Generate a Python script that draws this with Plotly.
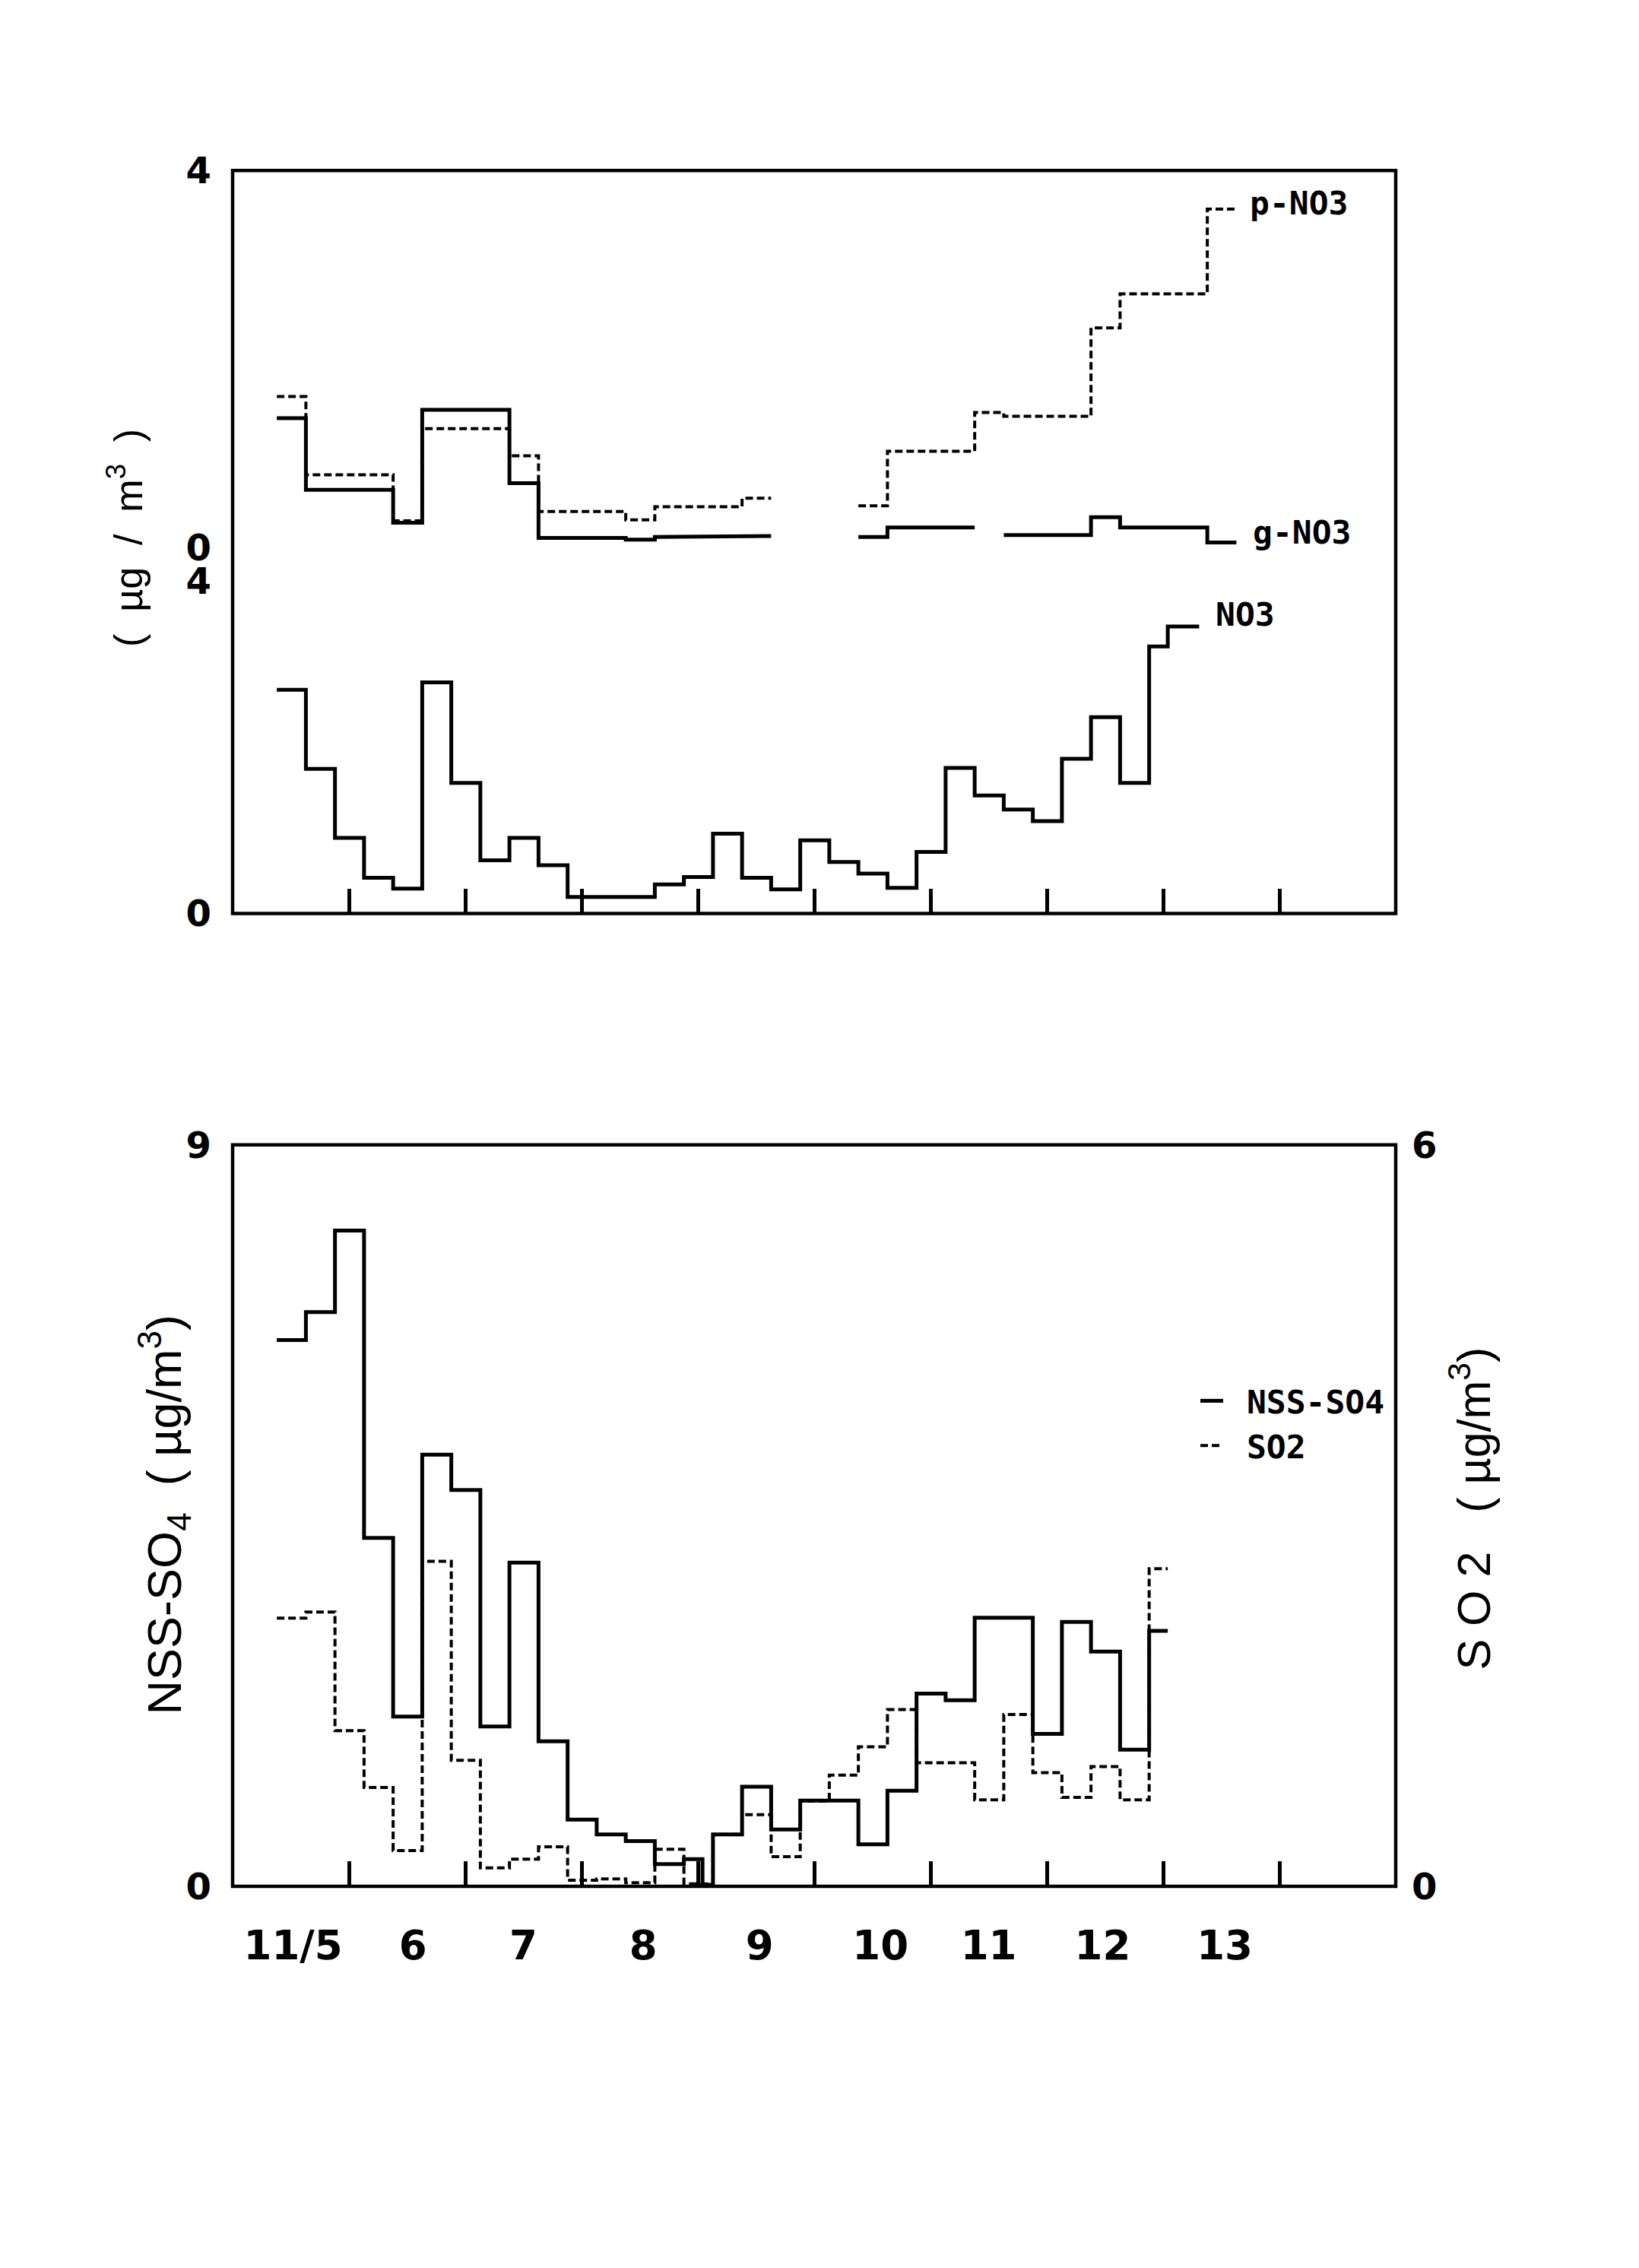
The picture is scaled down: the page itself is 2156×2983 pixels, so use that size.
import plotly.graph_objects as go

# ---------------- data ----------------
# time axis: day of November (11/5 ... 14)
day_ticks = [6, 7, 8, 9, 10, 11, 12, 13, 14]
day_label_pos = [5.52, 6.55, 7.50, 8.53, 9.53, 10.57, 11.50, 12.48, 13.53]
day_label_text = ["11/5", "6", "7", "8", "9", "10", "11", "12", "13"]

# upper sub-panel: particulate / gaseous nitrate (filter-pack sampling)
fp_edges = [5.38, 5.63, 6.38, 6.63, 7.38, 7.63, 8.38, 8.63, 9.38, 9.63,
            10.38, 10.63, 11.38, 11.63, 12.38, 12.63, 13.38, 13.63]
pno3_vals = [1.60, 0.77, 0.28, 1.26, 0.97, 0.38, 0.29, 0.43, 0.52, None,
             0.44, 1.02, 1.43, 1.39, 2.33, 2.69, 3.59]
gno3_vals = [1.37, 0.61, 0.26, 1.46, 0.68, 0.10, 0.08, 0.11, 0.12, None,
             0.11, 0.21, None, 0.13, 0.32, 0.21, 0.05]

# lower sub-panel: NO3 (6-hourly)
no3_edges = [5.38, 5.63, 5.88, 6.13, 6.38, 6.63, 6.88, 7.13, 7.38, 7.63,
             7.88, 8.13, 8.38, 8.63, 8.88, 9.13, 9.38, 9.63, 9.88, 10.13,
             10.38, 10.63, 10.88, 11.13, 11.38, 11.63, 11.88, 12.13, 12.38,
             12.63, 12.88, 13.04, 13.31]
no3_vals = [2.69, 1.74, 0.91, 0.43, 0.30, 2.78, 1.57, 0.64, 0.91, 0.58,
            0.20, 0.20, 0.20, 0.35, 0.44, 0.96, 0.43, 0.29, 0.88, 0.62,
            0.48, 0.31, 0.74, 1.75, 1.42, 1.25, 1.11, 1.86, 2.36, 1.57,
            3.21, 3.45]

# bottom panel: NSS-SO4 (left axis) and SO2 (right axis)
so_edges = [5.38, 5.63, 5.88, 6.13, 6.38, 6.63, 6.88, 7.13, 7.38, 7.63,
            7.88, 8.13, 8.38, 8.63, 8.88, 9.04, 9.13, 9.38, 9.63, 9.88,
            10.13, 10.38, 10.63, 10.88, 11.13, 11.38, 11.63, 11.88, 12.13,
            12.38, 12.63, 12.88, 13.04]
nsso4_vals = [6.63, 6.97, 7.96, 4.23, 2.06, 5.24, 4.81, 1.94, 3.93, 1.76,
              0.81, 0.63, 0.55, 0.27, 0.33, 0.02, 0.63, 1.21, 0.69, 1.04,
              1.04, 0.51, 1.16, 2.34, 2.26, 3.26, 3.26, 1.85, 3.21, 2.85,
              1.66, 3.10]
so2_vals = [2.17, 2.22, 1.26, 0.80, 0.29, 2.63, 1.02, 0.15, 0.22, 0.32,
            0.05, 0.06, 0.03, 0.30, 0.02, 0.02, 0.42, 0.58, 0.24, 0.69,
            0.90, 1.13, 1.43, 1.00, 1.00, 0.70, 1.39, 0.92, 0.72, 0.97,
            0.70, 2.57]

# ---------------- layout constants (pixels) ----------------
W, H = 2156, 2983
L, R = 306, 1836
TOP_T, TOP_MID, NO3_4, TOP_B = 200, 705, 750, 1196
BOT_T, BOT_B = 1506, 2500

def fx(p):
    return p / W

def fy(p):
    return 1 - p / H

def steps(edges, vals):
    xs, ys = [], []
    for i, v in enumerate(vals):
        if v is None:
            xs.append(None)
            ys.append(None)
            continue
        xs += [edges[i], edges[i + 1]]
        ys += [v, v]
    return xs, ys

DASH = "10px,5px"
SOLID_W, DASH_W = 5, 4
fig = go.Figure()

x, y = steps(fp_edges, pno3_vals)
fig.add_trace(go.Scatter(x=x, y=y, xaxis="x", yaxis="y2", mode="lines",
                         line=dict(color="black", width=DASH_W, dash=DASH),
                         showlegend=False, name="p-NO3"))
x, y = steps(fp_edges, gno3_vals)
fig.add_trace(go.Scatter(x=x, y=y, xaxis="x", yaxis="y2", mode="lines",
                         line=dict(color="black", width=SOLID_W),
                         showlegend=False, name="g-NO3"))
x, y = steps(no3_edges, no3_vals)
fig.add_trace(go.Scatter(x=x, y=y, xaxis="x", yaxis="y", mode="lines",
                         line=dict(color="black", width=SOLID_W),
                         showlegend=False, name="NO3"))
x, y = steps(so_edges, nsso4_vals)
fig.add_trace(go.Scatter(x=x, y=y, xaxis="x2", yaxis="y3", mode="lines",
                         line=dict(color="black", width=SOLID_W),
                         showlegend=True, name=" NSS-SO4"))
x, y = steps(so_edges, so2_vals)
fig.add_trace(go.Scatter(x=x, y=y, xaxis="x2", yaxis="y4", mode="lines",
                         line=dict(color="black", width=DASH_W, dash=DASH),
                         showlegend=True, name=" SO2"))

tickfont = dict(family="DejaVu Sans", size=48, color="black", weight="bold")
no3_top = 4 * (TOP_B - TOP_MID) / (TOP_B - NO3_4)

common = dict(showgrid=False, zeroline=False, showline=False)
fig.update_layout(
    width=W, height=H, margin=dict(l=0, r=0, t=0, b=0),
    paper_bgcolor="white", plot_bgcolor="white",
    xaxis=dict(domain=[fx(L), fx(R)], range=[5, 15], anchor="y",
               tickmode="array", tickvals=day_ticks, ticks="inside",
               ticklen=33, tickwidth=4.5, tickcolor="black",
               showticklabels=False, **common),
    yaxis=dict(domain=[fy(TOP_B), fy(TOP_MID)], range=[0, no3_top],
               anchor="x", tickmode="array", tickvals=[0, 4], ticks="",
               tickfont=tickfont, ticklabelstandoff=27, **common),
    yaxis2=dict(domain=[fy(TOP_MID), fy(TOP_T)], range=[0, 4],
                anchor="x", tickmode="array", tickvals=[0, 4],
                ticks="inside", ticklen=38, tickwidth=4.5, tickcolor="black",
                tickfont=tickfont, ticklabelstandoff=27, **common),
    xaxis2=dict(domain=[fx(L), fx(R)], range=[5, 15], anchor="y3",
                tickmode="array", tickvals=day_label_pos,
                ticktext=day_label_text, ticks="",
                tickfont=dict(family="DejaVu Sans", size=53,
                              color="black", weight="bold"),
                ticklabelstandoff=42,
                minor=dict(tickmode="array", tickvals=day_ticks,
                           ticks="inside", ticklen=33, tickwidth=4.5,
                           tickcolor="black", showgrid=False),
                **common),
    yaxis3=dict(domain=[fy(BOT_B), fy(BOT_T)], range=[0, 9], anchor="x2",
                tickmode="array", tickvals=[0, 9], ticks="",
                tickfont=tickfont, ticklabelstandoff=27, **common),
    yaxis4=dict(range=[0, 6], anchor="x2", overlaying="y3", side="right",
                tickmode="array", tickvals=[0, 6], ticks="",
                tickfont=tickfont, ticklabelstandoff=20, **common),
    legend=dict(x=fx(1574), y=fy(1814), xanchor="left", yanchor="top",
                bgcolor="rgba(0,0,0,0)", borderwidth=0,
                font=dict(family="DejaVu Sans Mono", size=43, color="black",
                          weight="bold"),
                tracegroupgap=0, itemwidth=30),
)

# frames of the two panels
for y0, y1 in [(TOP_B, TOP_T), (BOT_B, BOT_T)]:
    fig.add_shape(type="rect", xref="paper", yref="paper",
                  x0=fx(L), x1=fx(R), y0=fy(y0), y1=fy(y1),
                  line=dict(color="black", width=4.5), fillcolor="rgba(0,0,0,0)",
                  layer="above")

# series labels at line ends
labfont = dict(family="DejaVu Sans Mono", size=43, color="black", weight="bold")
fig.add_annotation(x=fp_edges[-1], y=pno3_vals[-1], xref="x", yref="y2",
                   text="p-NO3", showarrow=False, xanchor="left",
                   yanchor="middle", xshift=16, yshift=8, font=labfont)
fig.add_annotation(x=fp_edges[-1], y=gno3_vals[-1], xref="x", yref="y2",
                   text="g-NO3", showarrow=False, xanchor="left",
                   yanchor="middle", xshift=20, yshift=14, font=labfont)
fig.add_annotation(x=no3_edges[-1], y=no3_vals[-1], xref="x", yref="y",
                   text="NO3", showarrow=False, xanchor="left",
                   yanchor="middle", xshift=20, yshift=16, font=labfont)

# axis titles
fig.add_annotation(x=fx(165), y=fy(693), xref="paper", yref="paper",
                   xanchor="center", yanchor="middle",
                   text="(  µg  /  m<sup>3</sup>  )", textangle=-90,
                   showarrow=False,
                   font=dict(family="Liberation Sans", size=52, color="black"))
fig.add_annotation(x=fx(216), y=fy(2002), xref="paper", yref="paper",
                   xanchor="center", yanchor="middle",
                   text="NSS-SO<sub>4</sub>  ( µg/m<sup>3</sup>)", textangle=-90,
                   showarrow=False,
                   font=dict(family="Liberation Sans", size=63, color="black"))
fig.add_annotation(x=fx(1934), y=fy(1994), xref="paper", yref="paper",
                   xanchor="center", yanchor="middle",
                   text="S O 2   ( µg/m<sup>3</sup>)", textangle=-90,
                   showarrow=False,
                   font=dict(family="Liberation Sans", size=61, color="black"))

fig.write_html("out.html", config={"displayModeBar": False},
               post_script="document.body.style.margin='0';")
